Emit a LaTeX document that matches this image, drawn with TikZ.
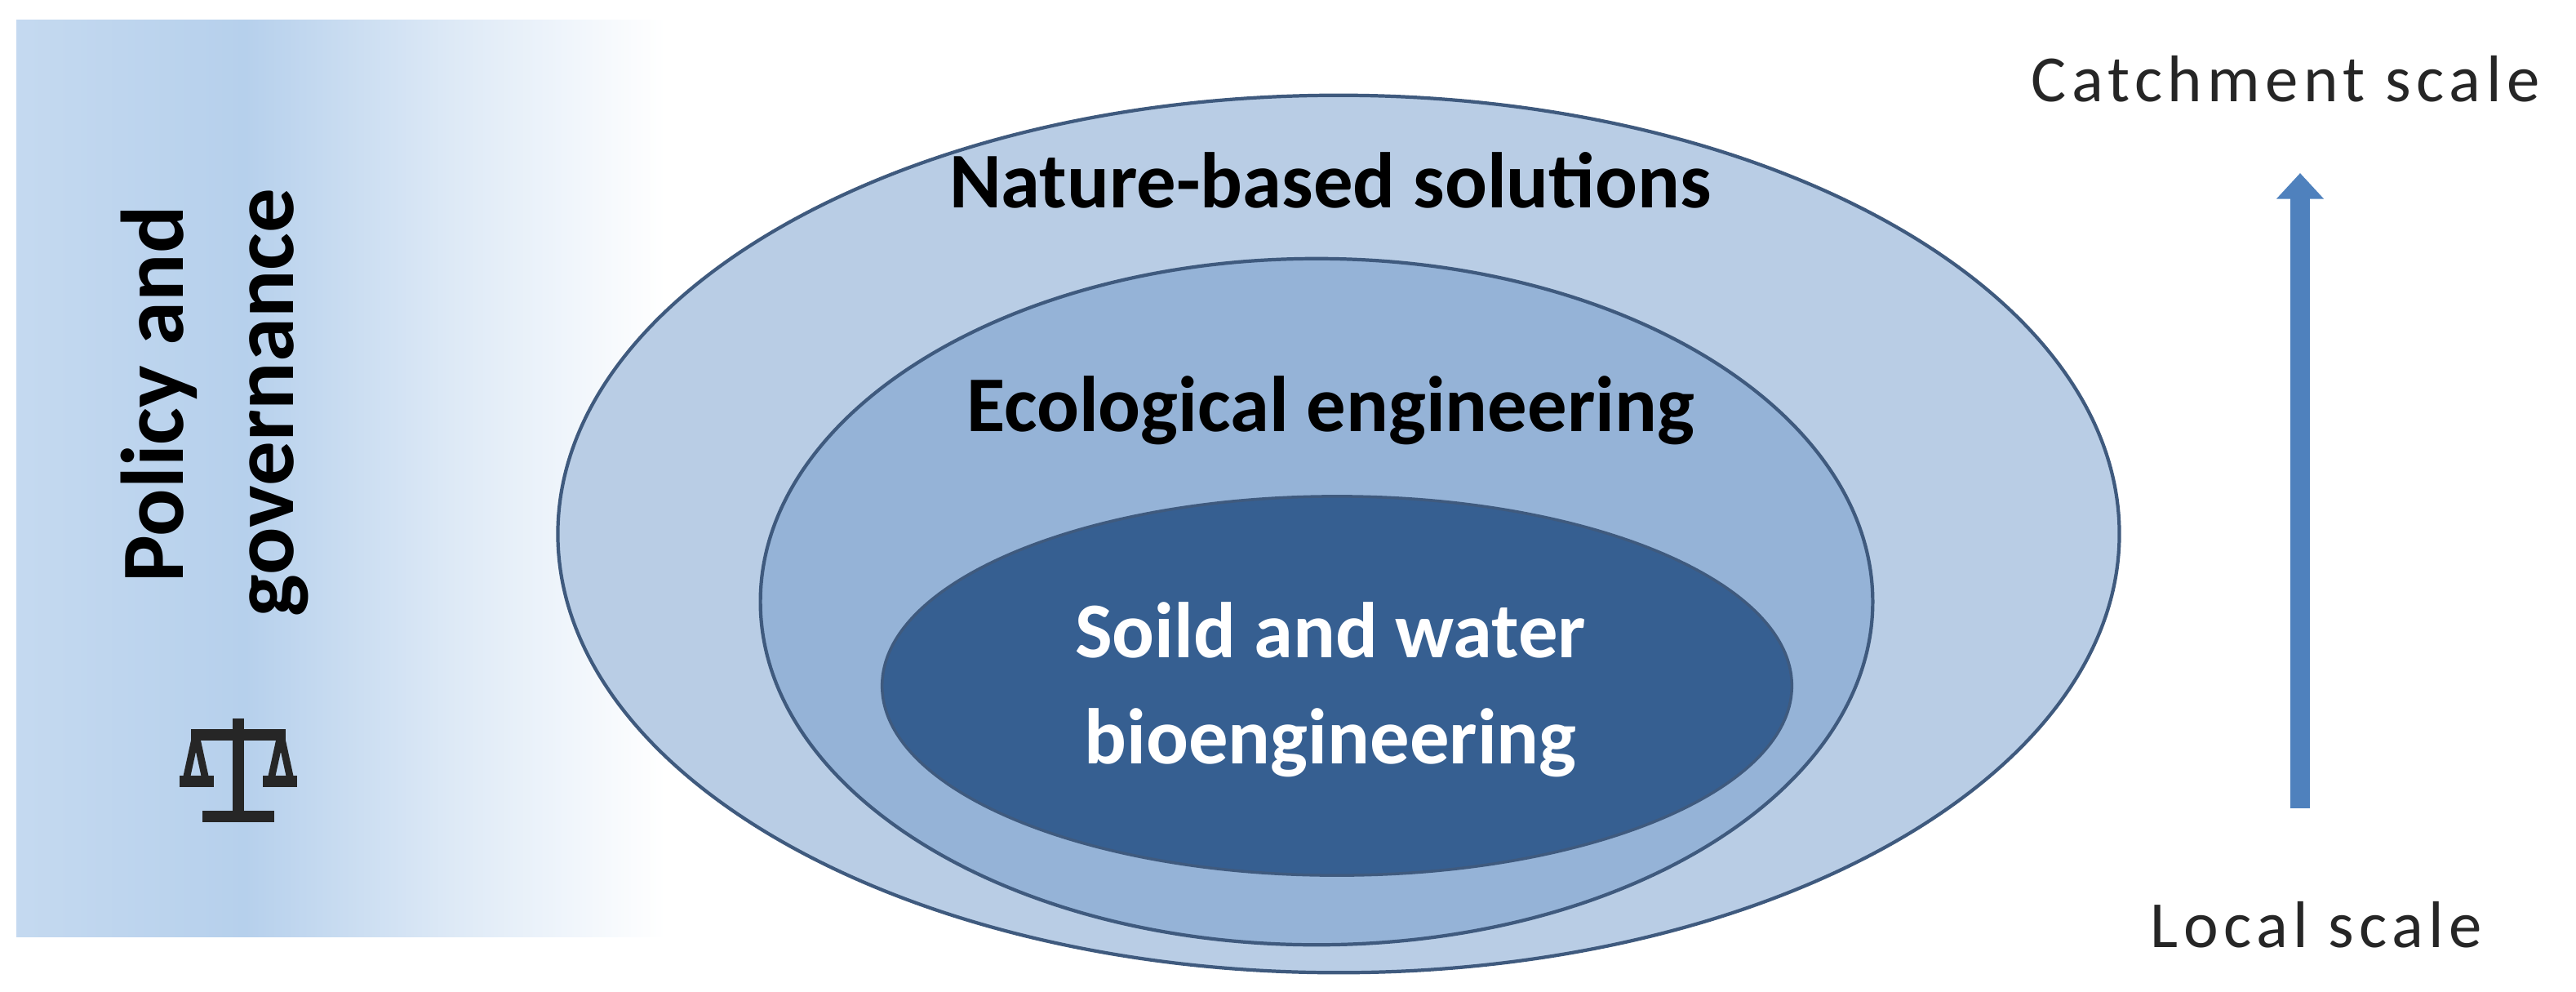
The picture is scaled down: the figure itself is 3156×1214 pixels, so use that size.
\documentclass[tikz,border=0pt]{standalone}
\usepackage{fontspec}
\setmainfont{Carlito}
\newfontfamily\spaced[LetterSpace=8]{Carlito}
\begin{document}
\begin{tikzpicture}[x=0.01cm,y=-0.01cm,
  ell/.style={ellipse, draw=edgec, line width=1.2pt, inner sep=0pt},
  lbl/.style={font=\bfseries\fontsize{27.5}{30}\selectfont},
  sc/.style={font=\spaced\fontsize{23}{26}\selectfont, text=black!85}]
\usetikzlibrary{shapes.geometric,arrows.meta}
\definecolor{edgec}{HTML}{3F5A7E}
\definecolor{outerc}{HTML}{B9CDE5}
\definecolor{midc}{HTML}{95B3D7}
\definecolor{innerc}{HTML}{365F91}
\definecolor{panelc}{HTML}{B6D0EC}
\definecolor{arrc}{HTML}{4F81BD}
\useasboundingbox (0,0) rectangle (3156,1214);
\fill[left color=panelc!80, right color=panelc] (20,24) rectangle (300,1147);
\fill[left color=panelc, right color=panelc!45] (300,24) rectangle (560,1147);
\fill[left color=panelc!45, right color=white] (560,24) rectangle (815,1147);
\node[lbl, font=\bfseries\fontsize{31}{34}\selectfont, rotate=90] (pol) at (195,483) {Policy and};
\node[lbl, font=\bfseries\fontsize{31}{34}\selectfont, rotate=90] (gov) at (342,493) {governance};
% scales icon
\begin{scope}[line width=4pt, black!85]
\draw (292,880) -- (292,1000);
\draw (248,1000) -- (336,1000);
\draw (234,900) -- (350,900);
\draw[line width=2.5pt] (240,900) -- (228,955) (240,900) -- (252,955);
\draw[line width=2.5pt] (344,900) -- (332,955) (344,900) -- (356,955);
\draw (220,957) -- (262,957);
\draw (322,957) -- (364,957);
\end{scope}
\node[ell, fill=outerc, minimum width=19.12cm, minimum height=10.74cm] (nbs) at (1640,654) {};
\node[ell, fill=midc, minimum width=13.62cm, minimum height=8.4cm] (eco) at (1613,737) {};
\node[ellipse, inner sep=0pt, fill=innerc, draw=edgec, line width=1pt, minimum width=11.14cm, minimum height=4.64cm] (bio) at (1638,840) {};
\node[lbl] (t1) at (1630,221) {Nature-based solutions};
\node[lbl] (t2) at (1630,503) {Ecological engineering};
\node[lbl, text=white, align=center, font=\bfseries\fontsize{27.5}{37}\selectfont] (t3) at (1630,845) {Soild and water\\bioengineering};
\node[sc] (catch) at (2800,97) {Catchment scale};
\node[sc] (local) at (2838,1133) {Local scale};
\coordinate (a0) at (2818,990);
\coordinate (a1) at (2818,212);
\draw[arrc, line width=7pt, -{Triangle[width=16pt,length=9pt]}] (a0) -- (a1);
\end{tikzpicture}
\end{document}
